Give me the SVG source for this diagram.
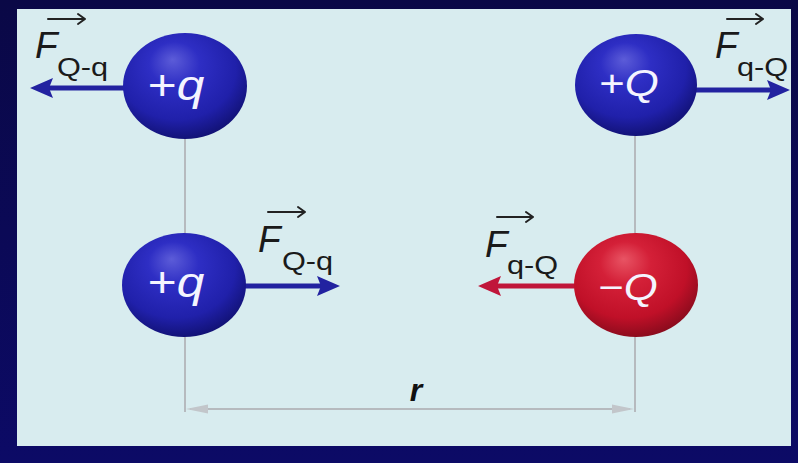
<svg xmlns="http://www.w3.org/2000/svg" width="798" height="463" viewBox="0 0 798 463">
<defs>
<linearGradient id="frame" x1="0" y1="0" x2="0" y2="1">
<stop offset="0" stop-color="#0a0846"/>
<stop offset="1" stop-color="#0c0a66"/>
</linearGradient>
<radialGradient id="blue" cx="0.45" cy="0.38" r="0.68" fx="0.4" fy="0.25">
<stop offset="0" stop-color="#5c5cd8"/>
<stop offset="0.3" stop-color="#2e2ec4"/>
<stop offset="0.7" stop-color="#2020aa"/>
<stop offset="1" stop-color="#0e0e68"/>
</radialGradient>
<radialGradient id="red" cx="0.45" cy="0.38" r="0.68" fx="0.4" fy="0.25">
<stop offset="0" stop-color="#e85464"/>
<stop offset="0.3" stop-color="#d42038"/>
<stop offset="0.7" stop-color="#c01028"/>
<stop offset="1" stop-color="#7c0a1a"/>
</radialGradient>
<style>
.guide{stroke:#b6babe;stroke-width:2;fill:none}
.ghead{fill:#c2c6ca}
.fb{stroke:#2222a0;stroke-width:5;fill:none}
.fbh{fill:#2222a0}
.fr{stroke:#c0163a;stroke-width:5;fill:none}
.frh{fill:#c0163a}
.vec{stroke:#222;stroke-width:2;fill:none;stroke-linecap:round;stroke-linejoin:round}
.F{font-family:"Liberation Sans",Arial,sans-serif;font-style:italic;font-size:37px;fill:#1a1a1a}
.sub{font-family:"Liberation Sans",Arial,sans-serif;font-size:26px;fill:#1a1a1a}
.lbl{font-family:"Liberation Sans",Arial,sans-serif;fill:#f4f4ff;text-anchor:middle}
.it{font-style:italic}
.r{font-family:"Liberation Sans",Arial,sans-serif;font-style:italic;font-weight:bold;font-size:32px;fill:#111;text-anchor:middle}
</style>
</defs>
<rect x="0" y="0" width="798" height="463" fill="url(#frame)"/>
<rect x="17" y="9" width="774" height="437" fill="#d8ecef"/>

<g id="connectors">
<line class="guide" x1="185" y1="86" x2="185" y2="412"/>
<line class="guide" x1="635" y1="86" x2="635" y2="412"/>
<line class="guide" x1="190" y1="409" x2="630" y2="409"/>
<polygon class="ghead" points="186,409 208,404.5 208,413.5"/>
<polygon class="ghead" points="634,409 612,404.5 612,413.5"/>
<text class="r" x="416" y="401">r</text>

<line class="fb" x1="125" y1="88" x2="48" y2="88"/>
<path class="fbh" d="M30,88 L53,78 L49,88 L53,98 Z"/>
<line class="fb" x1="695" y1="90" x2="772" y2="90"/>
<path class="fbh" d="M790,90 L767,80 L771,90 L767,100 Z"/>
<line class="fb" x1="245" y1="286" x2="322" y2="286"/>
<path class="fbh" d="M340,286 L317,276 L321,286 L317,296 Z"/>
<line class="fr" x1="575" y1="286" x2="496" y2="286"/>
<path class="frh" d="M478,286 L501,276 L497,286 L501,296 Z"/>
</g>

<g id="label-tl">
<path class="vec" d="M48,19 H85 M78,14 L85,19 L78,24"/>
<text class="F" x="35" y="58">F</text>
<text class="sub" transform="translate(57,76) scale(1.18,1)">Q-q</text>
</g>
<g id="label-tr">
<path class="vec" d="M727,19 H763 M756,14 L763,19 L756,24"/>
<text class="F" x="715" y="58">F</text>
<text class="sub" transform="translate(737,76) scale(1.18,1)">q-Q</text>
</g>
<g id="label-bl">
<path class="vec" d="M268,212 H305 M298,207 L305,212 L298,217"/>
<text class="F" x="258" y="252">F</text>
<text class="sub" transform="translate(282,270) scale(1.18,1)">Q-q</text>
</g>
<g id="label-br">
<path class="vec" d="M497,217 H533 M526,212 L533,217 L526,222"/>
<text class="F" x="485" y="257">F</text>
<text class="sub" transform="translate(507,274) scale(1.18,1)">q-Q</text>
</g>

<g id="charge-tl">
<ellipse cx="185" cy="86" rx="62" ry="53" fill="url(#blue)"/>
<text class="lbl" transform="translate(176,100) scale(1.18,1)" font-size="42">+<tspan class="it">q</tspan></text>
</g>
<g id="charge-tr">
<ellipse cx="636" cy="85" rx="61" ry="51" fill="url(#blue)"/>
<text class="lbl" transform="translate(629,96) scale(1.18,1)" font-size="37">+<tspan class="it">Q</tspan></text>
</g>
<g id="charge-bl">
<ellipse cx="184" cy="285" rx="62" ry="52" fill="url(#blue)"/>
<text class="lbl" transform="translate(176,297) scale(1.18,1)" font-size="42">+<tspan class="it">q</tspan></text>
</g>
<g id="charge-br">
<ellipse cx="636" cy="285" rx="62" ry="52" fill="url(#red)"/>
<text class="lbl" transform="translate(628,300) scale(1.18,1)" font-size="37">−<tspan class="it">Q</tspan></text>
</g>
</svg>
